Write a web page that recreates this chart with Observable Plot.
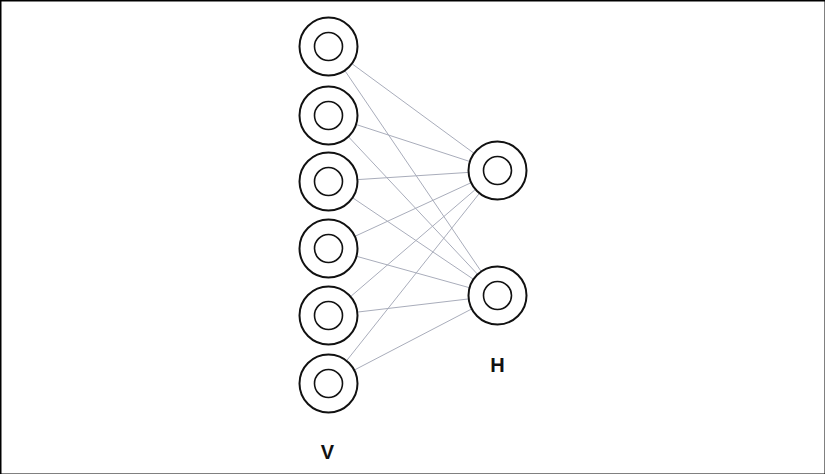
<!DOCTYPE html>
<html><head><meta charset="utf-8">
<script src="https://cdn.jsdelivr.net/npm/d3@7"></script>
<script src="https://cdn.jsdelivr.net/npm/@observablehq/plot@0.6"></script>
<style>body{margin:0;background:#fff}#c{width:825px;height:474px}</style>
</head><body><div id="c"></div>
<script>
const vX = 328;
const vY = [46, 115, 181, 248, 315, 383];
const hX = 497;
const hY = [170, 295];
const labels = [{x: 327, y: 452, t: "V"}, {x: 497, y: 365, t: "H"}];

const vNodes = vY.map((y) => ({x: vX, y}));
const hNodes = hY.map((y) => ({x: hX, y}));
const nodes = vNodes.concat(hNodes);
const edges = vNodes.flatMap((v) => hNodes.map((h) => ({x1: v.x, y1: v.y, x2: h.x, y2: h.y})));

const chart = Plot.plot({
  width: 825, height: 474,
  margin: 0,
  x: {domain: [0, 825], axis: null},
  y: {domain: [474, 0], axis: null},
  style: {background: "#fff"},
  marks: [
    Plot.frame({stroke: "#000", strokeWidth: 2}),
    Plot.link(edges, {x1: "x1", y1: "y1", x2: "x2", y2: "y2", stroke: "#a9adbb", strokeWidth: 1}),
    Plot.dot(nodes, {x: "x", y: "y", r: 29, fill: "#fff", stroke: "#111", strokeWidth: 2}),
    Plot.dot(nodes, {x: "x", y: "y", r: 14, fill: "none", stroke: "#111", strokeWidth: 1.6}),
    Plot.text(labels, {x: "x", y: "y", text: "t", fontSize: 20, fontWeight: "bold",
      fontFamily: "Liberation Sans, Arial, sans-serif", fill: "#111"})
  ]
});
document.getElementById("c").appendChild(chart);
</script></body></html>
